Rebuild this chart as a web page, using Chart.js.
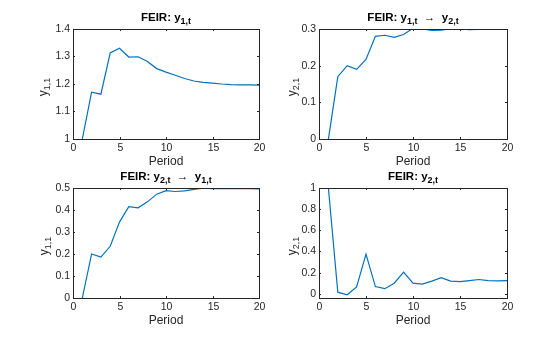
<!DOCTYPE html>
<html><head><meta charset="utf-8">
<script src="https://cdn.jsdelivr.net/npm/chart.js@4/dist/chart.umd.min.js"></script>
<style>
body{margin:0;background:#fff;width:560px;height:337px;position:relative;overflow:hidden}
canvas{position:absolute}
</style></head><body>
<canvas id="c0" width="280" height="168" style="left:0;top:0"></canvas>
<canvas id="c1" width="280" height="168" style="left:280px;top:0"></canvas>
<canvas id="c2" width="280" height="169" style="left:0;top:168px"></canvas>
<canvas id="c3" width="280" height="169" style="left:280px;top:168px"></canvas>
<script>
// ---- data ----
const periods = [1,2,3,4,5,6,7,8,9,10,11,12,13,14,15,16,17,18,19,20];
const feirY1 = [1.0,1.17,1.163,1.313,1.33,1.298,1.299,1.282,1.256,1.243,1.232,1.220,1.211,1.206,1.203,1.200,1.198,1.197,1.197,1.196];
const feirY1toY2 = [0,0.17,0.20,0.19,0.217,0.28,0.283,0.277,0.285,0.302,0.300,0.296,0.297,0.301,0.300,0.298,0.299,0.299,0.300,0.299];
const feirY2toY1 = [0,0.20,0.186,0.235,0.345,0.415,0.41,0.437,0.472,0.488,0.484,0.487,0.494,0.499,0.497,0.497,0.497,0.497,0.497,0.496];
const feirY2 = [1.0,0.015,-0.01,0.065,0.375,0.068,0.048,0.10,0.205,0.10,0.092,0.12,0.153,0.12,0.115,0.125,0.135,0.125,0.122,0.125];
const xTicks = [0,5,10,15,20];
const yTicks0 = [1,1.1,1.2,1.3,1.4];
const yTicks1 = [0,0.1,0.2,0.3];
const yTicks2 = [0,0.1,0.2,0.3,0.4,0.5];
const yTicks3 = [0,0.2,0.4,0.6,0.8,1];
const titles = [
  [['FEIR: y',0],['1,t',1]],
  [['FEIR: y',0],['1,t',1],['  \u2192  y',0],['2,t',1]],
  [['FEIR: y',0],['2,t',1],['  \u2192  y',0],['1,t',1]],
  [['FEIR: y',0],['2,t',1]]
];
const yLabels = [
  [['y',0],['1,1',1]],
  [['y',0],['2,1',1]],
  [['y',0],['1,1',1]],
  [['y',0],['2,1',1]]
];
const xLabel = 'Period';

const FONT = '"Liberation Sans", Arial, Helvetica, sans-serif';
const TXT = '#262626';

function richWidth(ctx, segs, size, bold){
  let w=0;
  for(const [t,s] of segs){
    ctx.font = (bold?'bold ':'') + (s? Math.round(size*0.75):size) + 'px ' + FONT;
    w += ctx.measureText(t).width;
  }
  return w;
}
function drawRich(ctx, segs, x, y, size, bold, color){
  const w = richWidth(ctx, segs, size, bold);
  let cx = x - w/2;
  ctx.fillStyle = color; ctx.textBaseline='alphabetic'; ctx.textAlign='left';
  for(const [t,s] of segs){
    ctx.font = (bold?'bold ':'') + (s? Math.round(size*0.75):size) + 'px ' + FONT;
    ctx.fillText(t, cx, y + (s? size*0.25:0));
    cx += ctx.measureText(t).width;
  }
}

const decor = {
  id:'decor',
  afterDraw(chart){
    const o = chart.options.plugins.decor;
    const ctx = chart.ctx, a = chart.chartArea;
    const xs = chart.scales.x, ys = chart.scales.y;
    ctx.save();
    // box
    ctx.strokeStyle = '#262626'; ctx.lineWidth = 1;
    ctx.strokeRect(Math.round(a.left)+0.5, Math.round(a.top)+0.5, Math.round(a.right-a.left), Math.round(a.bottom-a.top));
    // x ticks
    ctx.font = '10.5px ' + FONT; ctx.fillStyle = TXT;
    ctx.textAlign='center'; ctx.textBaseline='top';
    for(const v of o.xt){
      const px = Math.round(xs.getPixelForValue(v))+0.5;
      ctx.beginPath(); ctx.moveTo(px,a.bottom); ctx.lineTo(px,a.bottom-2); ctx.moveTo(px,a.top); ctx.lineTo(px,a.top+2); ctx.stroke();
      ctx.fillText(String(v), px, a.bottom+4);
    }
    ctx.textAlign='right'; ctx.textBaseline='middle';
    for(const v of o.yt){
      const py = Math.round(ys.getPixelForValue(v))+0.5;
      ctx.beginPath(); ctx.moveTo(a.left,py); ctx.lineTo(a.left+2,py); ctx.moveTo(a.right,py); ctx.lineTo(a.right-2,py); ctx.stroke();
      ctx.fillText(String(v), a.left-3, py);
    }
    // x label
    ctx.textAlign='center'; ctx.textBaseline='alphabetic';
    ctx.font = '12px ' + FONT;
    ctx.fillText(xLabel, (a.left+a.right)/2, a.bottom+26);
    // title
    drawRich(ctx, o.title, (a.left+a.right)/2, a.top-8, 11.5, true, '#000');
    // y label
    ctx.translate(a.left - o.yoff, (a.top+a.bottom)/2 + 3);
    ctx.rotate(-Math.PI/2);
    drawRich(ctx, o.ylab, 0, 4, 12, false, TXT);
    ctx.restore();
  }
};

function makeChart(id, data, yt, ymin, ymax, pad, yw, xh, title, ylab, yoff){
  new Chart(document.getElementById(id), {
    type:'line',
    data:{ datasets:[{ data: periods.map((p,i)=>({x:p,y:data[i]})), borderColor:'#0072BD', borderWidth:1.2, pointRadius:0, tension:0, fill:false }]},
    options:{
      responsive:false, animation:false, devicePixelRatio:1,
      layout:{ padding:{ top:pad.top, right:pad.right, left:0, bottom:0 } },
      plugins:{ legend:{display:false}, tooltip:{enabled:false}, title:{display:false},
        decor:{ xt:xTicks, yt:yt, title:title, ylab:ylab, yoff:yoff } },
      scales:{
        x:{ type:'linear', min:0, max:20, ticks:{display:false}, grid:{display:false}, border:{display:false},
            afterFit(s){ s.height = xh; } },
        y:{ type:'linear', min:ymin, max:ymax, ticks:{display:false}, grid:{display:false}, border:{display:false},
            afterFit(s){ s.width = yw; } }
      }
    },
    plugins:[decor]
  });
}

makeChart('c0', feirY1, yTicks0, 1, 1.4, {top:29,right:21}, 73, 29, titles[0], yLabels[0], 30);
makeChart('c1', feirY1toY2, yTicks1, 0, 0.3, {top:29,right:53}, 39, 29, titles[1], yLabels[1], 27);
makeChart('c2', feirY2toY1, yTicks2, 0, 0.5, {top:20,right:21}, 73, 39, titles[2], yLabels[2], 29);
makeChart('c3', feirY2, yTicks3, -0.04, 1, {top:20,right:53}, 39, 39, titles[3], yLabels[3], 27);
</script>
</body></html>
